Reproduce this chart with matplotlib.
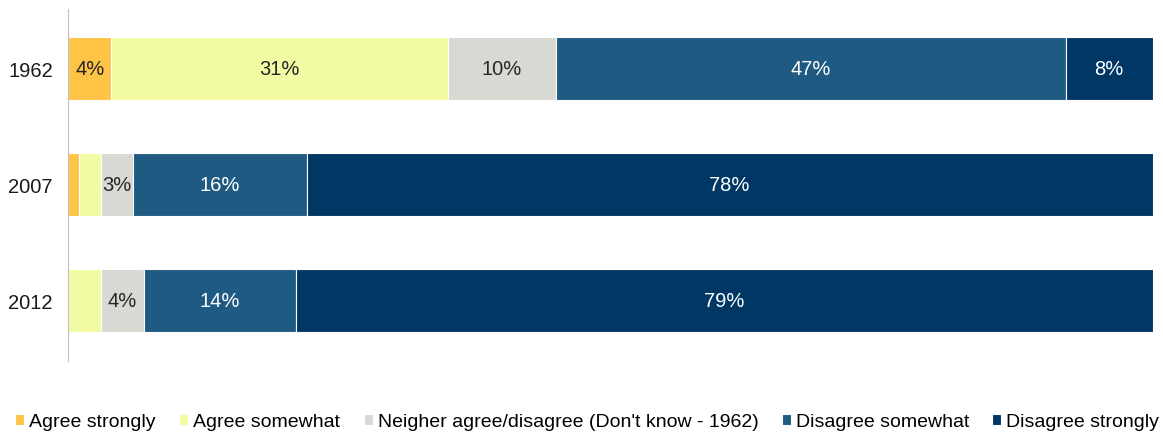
import numpy as np
import matplotlib.pyplot as plt

plt.rcParams['font.family'] = ['Liberation Sans', 'DejaVu Sans']

years = ['1962', '2007', '2012']
categories = ['Agree strongly', 'Agree somewhat',
              "Neigher agree/disagree (Don't know - 1962)",
              'Disagree somewhat', 'Disagree strongly']
agree_strongly = [4, 1, 0]
agree_somewhat = [31, 2, 3]
neither = [10, 3, 4]
disagree_somewhat = [47, 16, 14]
disagree_strongly = [8, 78, 79]
# which segments carry a text label
show_label = [[True, False, False],
              [True, False, False],
              [True, True, True],
              [True, True, True],
              [True, True, True]]

colors = ['#FFC445', '#F2FBA3', '#D9D9D4', '#1F5A82', '#003764']
text_colors = ['#262626', '#262626', '#262626', 'white', 'white']

series = [agree_strongly, agree_somewhat, neither, disagree_somewhat, disagree_strongly]

fig = plt.figure(figsize=(11.63, 4.35), dpi=100)
ax = fig.add_axes([0.0585, 0.168, 0.9325, 0.809])

y = np.arange(len(years))
left = np.zeros(len(years))
for i, vals in enumerate(series):
    vals = np.array(vals, dtype=float)
    ax.barh(y, vals, left=left, height=0.545, color=colors[i],
            edgecolor='white', linewidth=0.8, label=categories[i])
    for j, v in enumerate(vals):
        if show_label[i][j] and v > 0:
            ax.text(left[j] + v / 2, y[j], f'{int(v)}%', ha='center', va='center',
                    fontsize=14.5, color=text_colors[i])
    left += vals

ax.set_xlim(0, 100)
ax.set_ylim(2.52, -0.51)
ax.set_yticks(y)
ax.set_yticklabels(years, fontsize=14.5, color='#1a1a1a')
ax.set_xticks([])
ax.tick_params(axis='y', length=0, pad=11)
for s in ['top', 'right', 'bottom']:
    ax.spines[s].set_visible(False)
ax.spines['left'].set_color('#BFBFBF')

fig.legend(loc='center', bbox_to_anchor=(0.505, 0.028), ncol=5, frameon=False,
           fontsize=14, handlelength=0.46, handleheight=0.46,
           handletextpad=0.26, columnspacing=1.2, borderaxespad=0)

fig.savefig('out.png', dpi=100)
